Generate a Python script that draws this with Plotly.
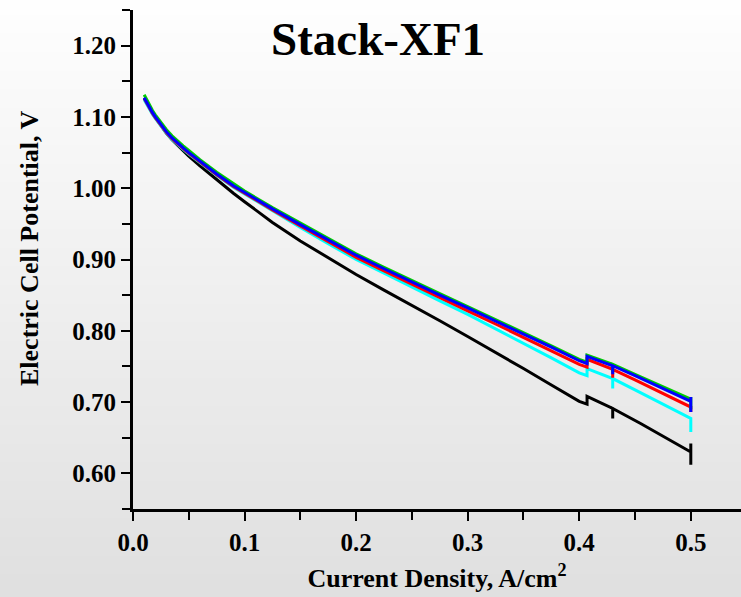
import base64, struct, zlib
import plotly.graph_objects as go

# ---- data ----
x_main = [0.01, 0.0125, 0.015, 0.0175, 0.02, 0.025, 0.03, 0.035, 0.04, 0.045, 0.05, 0.06, 0.075,
          0.09, 0.10, 0.125, 0.15, 0.175, 0.20, 0.225, 0.25, 0.275, 0.30, 0.325, 0.35, 0.375, 0.40]

y_black_main = [1.126, 1.1185, 1.1115, 1.105, 1.099, 1.0875, 1.077, 1.068, 1.060, 1.0525, 1.045, 1.0315, 1.012,
                0.993, 0.981, 0.952, 0.926, 0.902, 0.879, 0.857, 0.836, 0.814, 0.792, 0.770, 0.747, 0.724, 0.701]
y_cyan_main = [1.124, 1.1165, 1.1095, 1.1035, 1.098, 1.087, 1.077, 1.0685, 1.061, 1.0545, 1.048, 1.0355, 1.018,
               1.0015, 0.992, 0.968, 0.945, 0.922, 0.900, 0.881, 0.861, 0.842, 0.823, 0.803, 0.783, 0.762, 0.741]
y_red_main = [1.126, 1.1185, 1.1115, 1.105, 1.099, 1.088, 1.078, 1.0695, 1.062, 1.0555, 1.049, 1.0365, 1.019,
              1.0025, 0.993, 0.9695, 0.947, 0.9245, 0.903, 0.884, 0.865, 0.8465, 0.828, 0.8095, 0.791, 0.772, 0.753]
y_green_main = [1.131, 1.123, 1.116, 1.109, 1.103, 1.092, 1.082, 1.0735, 1.066, 1.0595, 1.053, 1.040, 1.0225,
                1.006, 0.996, 0.973, 0.951, 0.929, 0.908, 0.889, 0.870, 0.852, 0.834, 0.816, 0.798, 0.779, 0.760]
y_blue_main = [1.127, 1.1195, 1.1125, 1.106, 1.100, 1.089, 1.079, 1.0705, 1.063, 1.0565, 1.050, 1.0375, 1.020,
               1.0035, 0.994, 0.971, 0.949, 0.927, 0.906, 0.887, 0.868, 0.850, 0.832, 0.814, 0.796, 0.777, 0.758]

# tail segment: step at 0.407, dip at 0.43, final readings at 0.5
x_tail_black = [0.407, 0.407, 0.43, 0.43, 0.43, 0.455, 0.50, 0.50, 0.50]
y_tail_black = [0.697, 0.708, 0.691, 0.677, 0.691, 0.670, 0.630, 0.642, 0.612]
x_tail = [0.407, 0.407, 0.43, 0.43, 0.43, 0.45, 0.50, 0.50, 0.50]
y_tail_cyan = [0.737, 0.747, 0.733, 0.719, 0.733, 0.717, 0.677, 0.677, 0.658]
y_tail_red = [0.749, 0.760, 0.746, 0.734, 0.746, 0.731, 0.693, 0.693, 0.686]
y_tail_green = [0.756, 0.766, 0.753, 0.742, 0.753, 0.739, 0.704, 0.707, 0.690]
y_tail_blue = [0.754, 0.764, 0.751, 0.739, 0.751, 0.737, 0.701, 0.707, 0.686]

series = [
    ("black", x_main + x_tail_black, y_black_main + y_tail_black),
    ("#00ffff", x_main + x_tail, y_cyan_main + y_tail_cyan),
    ("#ff0000", x_main + x_tail, y_red_main + y_tail_red),
    ("#00cc00", x_main + x_tail, y_green_main + y_tail_green),
    ("#0000ff", x_main + x_tail, y_blue_main + y_tail_blue),
]

x_tickvals = [0.0, 0.1, 0.2, 0.3, 0.4, 0.5]
y_tickvals = [0.60, 0.70, 0.80, 0.90, 1.00, 1.10, 1.20]

# ---- gradient background image (generated PNG) ----
def gradient_png(top, bottom, n=64):
    rows = b""
    for i in range(n):
        v = round(top + (bottom - top) * i / (n - 1))
        rows += b"\x00" + bytes([v, v, v])
    def chunk(t, d):
        c = struct.pack(">I", len(d)) + t + d
        return c + struct.pack(">I", zlib.crc32(t + d) & 0xffffffff)
    png = b"\x89PNG\r\n\x1a\n"
    png += chunk(b"IHDR", struct.pack(">IIBBBBB", 1, n, 8, 2, 0, 0, 0))
    png += chunk(b"IDAT", zlib.compress(rows))
    png += chunk(b"IEND", b"")
    return "data:image/png;base64," + base64.b64encode(png).decode()

fig = go.Figure()
for color, xs, ys in series:
    fig.add_trace(go.Scatter(x=xs, y=ys, mode="lines",
                             line=dict(color=color, width=3),
                             showlegend=False, hoverinfo="skip"))

font_family = "Liberation Serif"
W, H = 741, 597
ml, mr, mt, mb = 133, 0, 10, 88
pw, ph = W - ml - mr, H - mt - mb

fig.update_layout(
    width=W, height=H,
    margin=dict(l=ml, r=mr, t=mt, b=mb),
    paper_bgcolor="rgba(0,0,0,0)",
    plot_bgcolor="rgba(0,0,0,0)",
    font=dict(family=font_family, color="black"),
    images=[dict(source=gradient_png(254, 224), xref="paper", yref="paper",
                 x=-ml / pw, y=1 + mt / ph, sizex=W / pw, sizey=H / ph,
                 sizing="stretch", xanchor="left", yanchor="top", layer="below")],
    annotations=[
        dict(text="<b>Stack-XF1</b>", x=0.22, y=1.210, xref="x", yref="y",
             showarrow=False, font=dict(size=47, family=font_family, color="black"),
             xanchor="center", yanchor="middle"),
        dict(text="<b>Electric Cell Potential, V</b>", textangle=-90,
             x=(29 - ml) / pw, y=(H - mb - 248) / ph, xref="paper", yref="paper",
             showarrow=False, font=dict(size=26, family=font_family, color="black"),
             xanchor="center", yanchor="middle"),
    ],
)

fig.update_xaxes(
    range=[0, 0.545], showgrid=False, zeroline=False,
    showline=True, linecolor="black", linewidth=3,
    ticks="outside", ticklen=9, tickwidth=2, tickcolor="black",
    tickvals=x_tickvals, ticktext=[f"<b>{v:.1f}</b>" for v in x_tickvals],
    tickfont=dict(size=25, family=font_family, color="black"),
    minor=dict(dtick=0.05, tick0=0, ticks="outside", ticklen=8, tickwidth=2, tickcolor="black"),
    title=dict(text="<b>Current Density, A/cm<sup>2</sup></b>", standoff=14,
               font=dict(size=26, family=font_family, color="black")),
)
fig.update_yaxes(
    range=[0.55, 1.25], showgrid=False, zeroline=False,
    showline=True, linecolor="black", linewidth=3,
    ticks="outside", ticklen=9, tickwidth=2, tickcolor="black",
    tickvals=y_tickvals, ticktext=[f"<b>{v:.2f}</b>" for v in y_tickvals],
    tickfont=dict(size=25, family=font_family, color="black"),
    minor=dict(dtick=0.05, tick0=0, ticks="outside", ticklen=8, tickwidth=2, tickcolor="black"),
)

fig.write_html("out.html", config={"displayModeBar": False},
               post_script="document.body.style.margin='0';")
